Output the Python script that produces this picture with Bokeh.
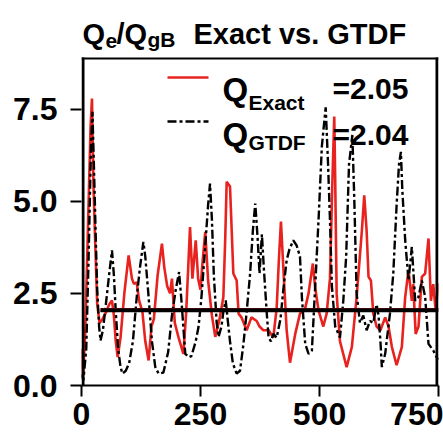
from bokeh.plotting import figure
from bokeh.models import Label, Arrow, FixedTicker, Range1d
from bokeh.embed import file_html
from bokeh.resources import INLINE

# ---- data ----
exact_x = [0, 3, 8, 14, 19, 22, 25, 28, 33, 38, 44, 52, 58, 64, 68, 72, 76, 82, 90, 99,
           106, 110, 116, 121, 128, 134, 141, 147, 152, 160, 169, 174, 180, 186, 190, 196,
           204, 214, 220, 228, 233, 240, 245, 250, 254, 260, 266, 274, 281, 290, 298, 302,
           305, 312, 319, 326, 330, 336, 347, 357, 368, 374, 382, 393, 403, 410, 415, 419,
           424, 431, 438, 449, 459, 470, 477, 486, 491, 498, 508, 515, 522, 527, 531, 533,
           536, 543, 557, 568, 578, 589, 594, 599, 603, 608, 613, 620, 628, 638, 645, 652,
           662, 673, 680, 687, 694, 697, 702, 708, 715, 722, 729, 734, 739, 744, 750]
exact_y = [1.0, 0.2, 1.5, 4.5, 7.0, 7.79, 5.5, 4.2, 2.2, 1.7, 1.8, 2.0, 2.2, 2.31, 1.9, 1.2,
           0.77, 1.3, 2.5, 3.53, 2.9, 2.76, 2.8, 2.31, 2.0, 1.2, 0.68, 1.6, 1.8, 3.0, 3.85,
           3.2, 2.7, 2.5, 2.9, 1.7, 1.3, 0.86, 2.0, 4.3, 2.9, 3.94, 2.9, 2.6, 3.3, 4.17, 2.85,
           1.9, 1.32, 1.8, 2.4, 4.0, 5.53, 5.4, 3.04, 2.85, 1.95, 1.85, 1.5, 1.85, 1.75, 1.6,
           1.5, 1.5, 1.3, 2.1, 3.5, 4.45, 3.2, 1.5, 0.62, 1.4, 1.95, 2.1, 2.5, 3.31, 2.65,
           2.04, 1.6, 1.95, 2.9, 5.5, 7.3, 5.6, 2.5, 1.2, 0.5, 1.05, 2.4, 4.2, 5.16, 4.2,
           2.95, 2.85, 1.95, 1.6, 1.5, 1.85, 1.6, 1.05, 0.55, 1.05, 2.4, 3.13, 2.3, 2.75,
           1.4, 1.6, 2.95, 3.04, 3.99, 2.3, 2.75, 2.04, 2.77]

gtdf_x = [0, 4, 10, 15, 20, 23, 26, 30, 33, 37, 40, 45, 52, 58, 64, 68, 72, 77, 82, 86, 93,
          100, 108, 116, 123, 130, 134, 141, 148, 155, 162, 172, 182, 190, 198, 205, 210,
          218, 225, 231, 240, 246, 252, 260, 266, 270, 274, 278, 284, 288, 294, 298, 303,
          307, 312, 318, 326, 333, 340, 347, 354, 360, 365, 370, 374, 379, 383, 389, 393,
          398, 403, 410, 418, 424, 431, 437, 445, 452, 459, 463, 470, 477, 484, 491, 498,
          505, 513, 518, 522, 526, 533, 543, 550, 556, 562, 569, 573, 578, 585, 592, 599,
          606, 613, 620, 624, 628, 631, 638, 648, 655, 662, 667, 671, 674, 680, 687, 694,
          701, 708, 715, 722, 729, 739, 746, 750]
gtdf_y = [0.3, 0.14, 1.0, 3.5, 6.5, 7.43, 6.0, 4.0, 2.6, 1.6, 1.22, 1.5, 2.3, 3.0, 3.67, 3.0,
          2.0, 1.0, 0.5, 0.32, 0.4, 0.6, 1.2, 2.4, 3.22, 3.9, 3.5, 2.4, 1.2, 0.5, 0.32, 0.35,
          0.9, 1.9, 2.6, 3.08, 2.3, 0.86, 0.77, 0.8, 1.2, 1.6, 2.4, 3.8, 4.9, 5.48, 4.5, 3.0,
          1.7, 1.32, 1.6, 2.0, 2.31, 1.8, 1.2, 0.6, 0.32, 0.4, 1.1, 2.0, 3.0, 4.2, 4.94, 4.0,
          3.04, 4.1, 3.2, 2.0, 1.3, 1.2, 1.4, 1.3, 1.8, 2.6, 3.4, 3.7, 3.94, 3.8, 3.5, 2.4,
          1.13, 0.86, 0.95, 2.7, 4.5, 6.5, 7.55, 6.0, 4.5, 2.7, 1.6, 1.3, 2.3, 3.5, 6.0, 6.8,
          5.1, 2.5, 1.7, 1.9, 1.5, 1.75, 1.7, 2.2, 1.9, 1.2, 0.5, 0.86, 1.95, 3.04, 4.9, 6.0,
          6.34, 5.3, 3.95, 2.85, 3.76, 2.3, 2.4, 2.85, 2.4, 1.13, 0.95, 0.77, 0.7]

mean_x = [40, 750]
mean_exact = 2.05
mean_gtdf = 2.04

x_ticks = [0, 250, 500, 750]
y_ticks = [0, 2.5, 5, 7.5]
y_tick_labels = ["0.0", "2.5", "5.0", "7.5"]

X_MIN, X_MAX = 0, 750
Y_MIN, Y_MAX = 0, 8.9          # visible axes box
PX_PER_UNIT = 36.8             # vertical scale of the reference
FRAME_TOP_PAD = 57             # room above the axes box for the title (px)

RED = "#e8231f"
FONT = "Liberation Sans, Arial, Helvetica, sans-serif"

W, H = 443, 443
BORDER_L, BORDER_R, BORDER_B = 81, 5, 58
p = figure(width=W, height=H, output_backend="svg", toolbar_location=None,
           x_range=Range1d(X_MIN, X_MAX),
           y_range=Range1d(Y_MIN, Y_MAX + FRAME_TOP_PAD / PX_PER_UNIT),
           min_border_left=BORDER_L, min_border_right=BORDER_R, min_border_top=0,
           min_border_bottom=BORDER_B)

p.xgrid.visible = False
p.ygrid.visible = False
p.outline_line_color = None
p.background_fill_color = "white"
p.border_fill_color = "white"

for ax in (p.xaxis[0], p.yaxis[0]):
    ax.axis_line_width = 2
    ax.major_tick_line_width = 2
    ax.major_tick_out = 11
    ax.major_tick_in = 0
    ax.minor_tick_line_color = None
    ax.major_label_text_font = FONT
    ax.major_label_text_font_style = "bold"
    ax.major_label_text_font_size = "32px"
    ax.major_label_text_color = "black"

p.yaxis[0].axis_line_color = None   # the box edges below draw the left side
p.xaxis[0].ticker = FixedTicker(ticks=x_ticks)
p.yaxis[0].ticker = FixedTicker(ticks=y_ticks)
p.yaxis[0].major_label_overrides = {t: l for t, l in zip(y_ticks, y_tick_labels)}
p.xaxis[0].major_label_standoff = 6
p.yaxis[0].major_label_standoff = 13

# series
p.line(exact_x, exact_y, line_color=RED, line_width=2.6)
p.line(gtdf_x, gtdf_y, line_color="black", line_width=2.4, line_dash="9 3 3 3")

# mean lines
p.line(mean_x, [mean_exact] * 2, line_color=RED, line_width=4)
p.line(mean_x, [mean_gtdf] * 2, line_color="black", line_width=4)

# ---- screen-unit helpers (frame-relative: x from left, y up from bottom) ----
FL, FB = BORDER_L, H - BORDER_B            # frame left / bottom in canvas pixels
FRAME_W = W - BORDER_L - BORDER_R
BOX_H = FB - FRAME_TOP_PAD                 # height of the axes box in px


def edge(x0, y0, x1, y1, width=3):
    p.add_layout(Arrow(end=None, x_start=x0, y_start=y0, x_end=x1, y_end=y1,
                       start_units="screen", end_units="screen",
                       line_color="black", line_width=width))


# axes box (left, right, top), kept just inside the frame
edge(1.5, 0, 1.5, BOX_H)
edge(FRAME_W - 1.5, 0, FRAME_W - 1.5, BOX_H)
edge(0, BOX_H - 1, FRAME_W, BOX_H - 1, width=2)


def add_text(text, px, py, size):
    p.add_layout(Label(x=px - FL, y=FB - py, x_units="screen", y_units="screen",
                       text=text, text_font=FONT, text_font_style="bold",
                       text_font_size=f"{size}px", text_color="black",
                       text_baseline="alphabetic", text_align="left"))


# title
add_text("Q", 82, 33, 29)
add_text("e", 105, 40, 21)
add_text("/", 116, 33, 29)
add_text("Q", 124, 33, 29)
add_text("gB", 147, 39, 21)
add_text("Exact vs. GTDF", 193, 33, 29)

# legend
p.add_layout(Arrow(end=None, x_start=167 - FL, y_start=FB - 77, x_end=208 - FL, y_end=FB - 77,
                   start_units="screen", end_units="screen", line_color=RED, line_width=2.6))
p.add_layout(Arrow(end=None, x_start=167 - FL, y_start=FB - 121, x_end=208 - FL, y_end=FB - 121,
                   start_units="screen", end_units="screen", line_color="black",
                   line_width=2.4, line_dash="9 3 3 3"))
add_text("Q", 222, 89, 33)
add_text("Exact", 248, 102, 21)
add_text(f"={mean_exact:.2f}", 332, 88, 30)
add_text("Q", 222, 134, 33)
add_text("GTDF", 248, 142, 21)
add_text(f"={mean_gtdf:.2f}", 332, 134, 30)

open("out.html", "w").write(file_html(p, INLINE))
